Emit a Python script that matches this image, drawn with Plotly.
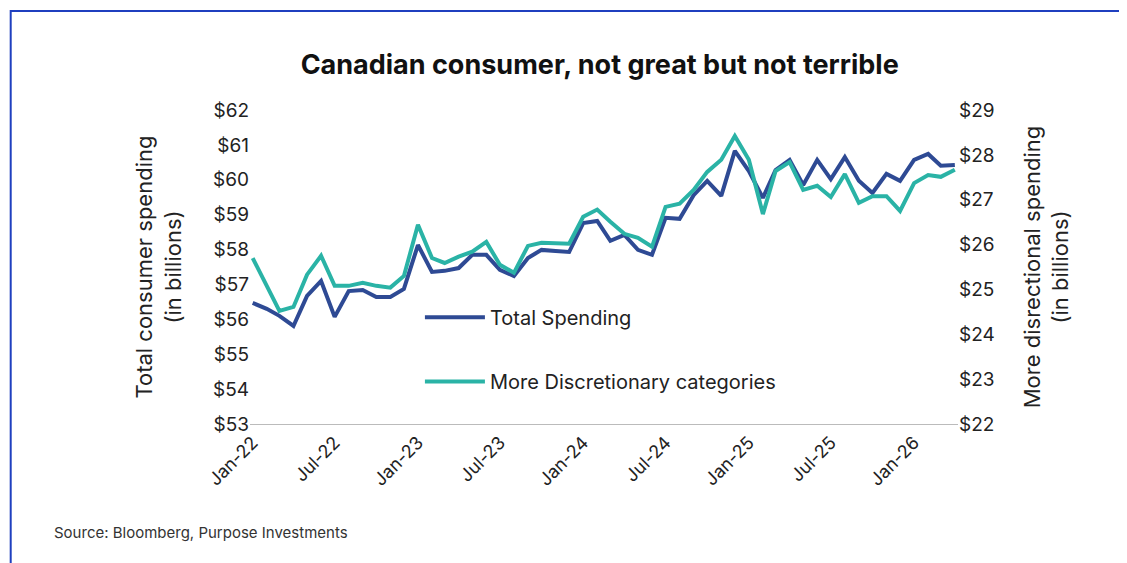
import pandas as pd
import plotly.graph_objects as go

# monthly data, Jan-22 .. Apr-26
dates = pd.date_range("2022-01-01", periods=52, freq="MS")

total = [56.47, 56.30, 56.10, 55.81, 56.67, 57.10, 56.07, 56.81, 56.84, 56.64, 56.64, 56.87,
         58.13, 57.36, 57.39, 57.47, 57.85, 57.85, 57.42, 57.24, 57.76, 57.99, 57.96, 57.93,
         58.76, 58.82, 58.25, 58.42, 57.99, 57.85, 58.91, 58.88, 59.56, 59.97, 59.54, 60.83,
         60.25, 59.48, 60.28, 60.57, 59.85, 60.57, 60.02, 60.65, 59.97, 59.62, 60.17, 59.97,
         60.57, 60.74, 60.40, 60.42]

discretionary = [25.70, 25.10, 24.52, 24.61, 25.33, 25.75, 25.08, 25.08, 25.15, 25.08, 25.04, 25.30,
                 26.44, 25.70, 25.59, 25.73, 25.84, 26.06, 25.55, 25.37, 25.97, 26.04, 26.02, 26.02,
                 26.62, 26.78, 26.51, 26.24, 26.15, 25.95, 26.84, 26.91, 27.22, 27.62, 27.89, 28.42,
                 27.89, 26.68, 27.64, 27.84, 27.22, 27.31, 27.06, 27.57, 26.93, 27.08, 27.08, 26.75,
                 27.37, 27.55, 27.51, 27.67]

NAVY = "#2e4a94"
TEAL = "#2ab3a6"
FONT = "Inter, Noto Sans, sans-serif"

fig = go.Figure()
fig.add_trace(go.Scatter(x=dates, y=total, name="Total Spending", mode="lines",
                         line=dict(color=NAVY, width=4), legend="legend", showlegend=True))
fig.add_trace(go.Scatter(x=dates, y=discretionary, name="More Discretionary categories", mode="lines",
                         line=dict(color=TEAL, width=4), yaxis="y2", legend="legend2",
                         showlegend=True))

legend_style = dict(font=dict(size=20, color="#222", family=FONT), bgcolor="rgba(0,0,0,0)",
                    xanchor="left", yanchor="middle", itemwidth=60)

fig.update_layout(
    width=1127, height=563,
    showlegend=True,
    paper_bgcolor="white", plot_bgcolor="white",
    margin=dict(l=242, r=177, t=102, b=147, autoexpand=False),
    font=dict(family=FONT, color="#222"),
    title=dict(text="<b>Canadian consumer, not great but not terrible</b>", x=0.525, y=0.9,
               xanchor="center", yanchor="middle", font=dict(size=27, color="#111", family=FONT)),
    xaxis=dict(range=["2021-12-26", "2026-04-08"], tickformat="%b-%y", dtick="M6",
               tick0="2022-01-01", tickangle=-45, showgrid=False, showline=True,
               linecolor="#bbb", ticks="", tickfont=dict(size=18), automargin=False),
    yaxis=dict(range=[53, 62], dtick=1, tickprefix="$", showgrid=False, zeroline=False,
               tickfont=dict(size=19), automargin=False,
               title=dict(text="Total consumer spending<br>(in billions)",
                          font=dict(size=22), standoff=25)),
    yaxis2=dict(range=[22, 29], dtick=1, tickprefix="$", overlaying="y", side="right",
                showgrid=False, zeroline=False, tickfont=dict(size=19), automargin=False,
                title=dict(text="More disrectional spending<br>(in billions)",
                           font=dict(size=22), standoff=30)),
    legend=dict(x=0.24, y=0.34, **legend_style),
    legend2=dict(x=0.24, y=0.135, **legend_style),
    annotations=[dict(text="Source: Bloomberg, Purpose Investments", xref="paper", yref="paper",
                      x=-0.28, y=-0.345, xanchor="left", yanchor="middle", showarrow=False,
                      font=dict(size=15, color="#333"))],
    shapes=[dict(type="rect", xref="paper", yref="paper", x0=-0.338, x1=1.2415, y0=-0.452, y1=1.315,
                 line=dict(color="#1f3fbf", width=2))],
)

fig.write_html("out.html")
